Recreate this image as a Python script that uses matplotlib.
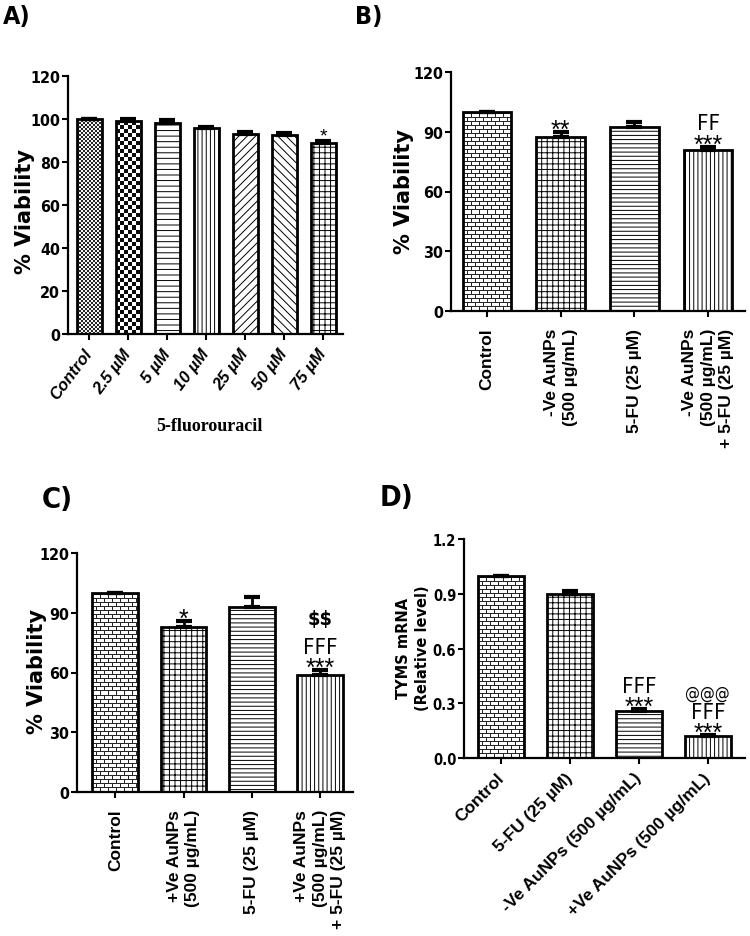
import os
import numpy as np
import matplotlib
matplotlib.use("Agg")
import matplotlib.pyplot as plt
from matplotlib import font_manager
from matplotlib.font_manager import FontProperties

### Data ###
a_labels = ["Control", "2.5 µM", "5 µM", "10 µM", "25 µM", "50 µM", "75 µM"]
a_values = [100, 99.3, 98.0, 96.0, 92.8, 92.4, 88.8]
a_errors = [0, 0.7, 1.5, 0.3, 1.2, 1.0, 1.2]

b_labels = ["Control", "-Ve AuNPs\n(500 µg/mL)", "5-FU (25 µM)",
            "-Ve AuNPs\n(500 µg/mL)\n+ 5-FU (25 µM)"]
b_values = [100, 87.6, 92.6, 80.9]
b_errors = [0, 2.4, 2.4, 1.6]

c_labels = ["Control", "+Ve AuNPs\n(500 µg/mL)", "5-FU (25 µM)",
            "+Ve AuNPs\n(500 µg/mL)\n+ 5-FU (25 µM)"]
c_values = [100, 82.6, 92.7, 58.8]
c_errors = [0, 3.1, 5.0, 2.7]

d_labels = ["Control", "5-FU (25 µM)", "-Ve AuNPs (500 µg/mL)", "+Ve AuNPs (500 µg/mL)"]
d_values = [1.0, 0.90, 0.26, 0.12]
d_errors = [0, 0.017, 0.012, 0.008]

# significance marks: (bar index, text)
b_marks = [(1, "**"), (3, "***"), (3, "FF")]
c_marks = [(1, "*"), (3, "***"), (3, "FFF"), (3, "$$")]
d_marks = [(2, "***"), (2, "FFF"), (3, "***"), (3, "FFF"), (3, "@@@")]


# look for a narrow / condensed sans font file
NARROW_KEYS = ["LiberationSansNarrow", "DejaVuSansCondensed", "RobotoCondensed",
               "Roboto_Condensed", "OpenSansCondensed", "OpenSans_Condensed",
               "NotoSans-Condensed", "NotoSansCondensed"]


def find_narrow(bold):
    for key in NARROW_KEYS:
        for f in font_manager.fontManager.ttflist:
            n = os.path.basename(f.fname)
            if key in n and ("Bold" in n) == bold and "Italic" not in n \
                    and "Oblique" not in n and "Semi" not in n and "Extra" not in n:
                return f.fname
    return None


NARROW_B = find_narrow(True)
NARROW_R = find_narrow(False)


def narrow(size, bold=True):
    fn = NARROW_B if bold else NARROW_R
    if fn:
        return FontProperties(fname=fn, size=size)
    return FontProperties(family="Liberation Sans", weight="bold" if bold else "normal",
                          size=size * 0.9)


plt.rcParams["hatch.linewidth"] = 0.7
W, H = 750, 937
fig = plt.figure(figsize=(W / 100, H / 100), dpi=100)


def texture(kind, nx, ny):
    yy, xx = np.mgrid[0:ny, 0:nx]
    a = np.ones((ny, nx))
    if kind == "brick":
        row = yy // 4
        a[yy % 4 == 0] = 0.15
        off = (row % 2) * 4
        a[(xx + off) % 8 == 0] = 0.15
    elif kind == "checker":
        a = np.where(((xx // 4) + (yy // 4)) % 2 == 0, 0.05, 1.0)
    elif kind == "fine":
        a = np.where(((xx // 2) + (yy // 2)) % 2 == 0, 0.15, 0.95)
    return a[::-1]


def make_axes(rect_px, xlim, ylim, yticks, yfmt, tick_size=11.5):
    l, b, w, h = rect_px
    ax = fig.add_axes([l / W, 1 - b / H, w / W, h / H])
    ax.set_xlim(*xlim)
    ax.set_ylim(*ylim)
    for s in ["top", "right"]:
        ax.spines[s].set_visible(False)
    for s in ["left", "bottom"]:
        ax.spines[s].set_linewidth(1.6)
    ax.tick_params(axis="both", direction="out", length=4, width=1.5, pad=1.5)
    ax.set_yticks(yticks)
    ax.set_yticklabels([yfmt.format(t) for t in yticks], fontproperties=narrow(tick_size))
    return ax


def draw_bars(ax, values, errors, width, styles):
    x = np.arange(len(values))
    for i, (v, st) in enumerate(zip(values, styles)):
        if st in ("brick", "checker", "fine"):
            bar = ax.bar(x[i], v, width, facecolor="none", edgecolor="black",
                         linewidth=2, zorder=3)[0]
            x0, y0 = ax.transData.transform((x[i] - width / 2, 0))
            x1, y1 = ax.transData.transform((x[i] + width / 2, v))
            img = texture(st, int(round(x1 - x0)), int(round(y1 - y0)))
            im = ax.imshow(img, extent=(x[i] - width / 2, x[i] + width / 2, 0, v),
                           cmap="gray", vmin=0, vmax=1, interpolation="nearest",
                           aspect="auto", origin="upper", zorder=1)
            im.set_clip_path(bar)
        else:
            ax.bar(x[i], v, width, facecolor="white", edgecolor="black",
                   linewidth=2, hatch=st, zorder=2)
    ax.errorbar(x, values, yerr=[np.zeros(len(values)), errors], fmt="none",
                ecolor="black", elinewidth=2, capsize=5.5, capthick=3, zorder=4)
    ax.set_xticks(x)


def mark(ax, x, y, text, dy_px, size=None):
    if set(text) == {"*"}:
        fp = FontProperties(family="Liberation Sans", size=size or 18)
    elif text[0] == "$":
        fp = narrow(14.5)
    elif text[0] == "@":
        fp = narrow(12, bold=False)
    else:
        fp = narrow(16, bold=False)
    ax.annotate(text, (x, y), xytext=(0, dy_px * 0.72), textcoords="offset points",
                ha="center", va="baseline", zorder=5, parse_math=False, fontproperties=fp)


mark_offsets = {"*": -5, "**": -5, "***": -5, "FF": 17.5, "FFF": 17, "$$": 46, "@@@": 37}

rot_font = dict(fontfamily="Liberation Sans", fontweight="bold")

# ---- A ----
axA = make_axes((68, 335, 275, 258), (-0.54, 6.51), (0, 120), range(0, 121, 20), "{:d}")
draw_bars(axA, a_values, a_errors, 0.64,
          ["fine", "checker", "---", "||||", "////", "\\\\\\\\", "+++"])
axA.set_xticklabels(a_labels, rotation=53, ha="right", va="center", rotation_mode="anchor",
                    fontstyle="italic", fontsize=12, **rot_font)
axA.tick_params(axis="x", pad=8)
mark(axA, 6, a_values[6] + a_errors[6], "*", 0, size=14)
fig.text(25 / W, 1 - 212 / H, "% Viability", rotation=90, ha="center", va="center",
         fontfamily="DejaVu Sans", fontweight="bold", fontsize=15)
fig.text(209 / W, 1 - 427 / H, "5-fluorouracil", ha="center", va="center",
         fontfamily="Liberation Serif", fontweight="bold", fontsize=13)
fig.text(3 / W, 1 - 24 / H, "A)", fontproperties=narrow(18), va="baseline")

# ---- B ----
axB = make_axes((451, 312, 294, 239), (-0.49, 3.5), (0, 120), range(0, 121, 30), "{:d}")
draw_bars(axB, b_values, b_errors, 0.66, ["brick", "+++", "----", "||||"])
axB.set_xticklabels(b_labels, rotation=90, ha="center", va="top", multialignment="right",
                    fontsize=12.5, linespacing=1.3, **rot_font)
axB.tick_params(axis="x", pad=8)
for i, t in b_marks:
    mark(axB, i, b_values[i] + b_errors[i], t, mark_offsets[t])
fig.text(404 / W, 1 - 192 / H, "% Viability", rotation=90, ha="center", va="center",
         fontfamily="DejaVu Sans", fontweight="bold", fontsize=15)
fig.text(355 / W, 1 - 24 / H, "B)", fontproperties=narrow(18), va="baseline")

# ---- C ----
axC = make_axes((77, 793, 276, 239), (-0.56, 3.48), (0, 120), range(0, 121, 30), "{:d}")
draw_bars(axC, c_values, c_errors, 0.67, ["brick", "+++", "----", "||||"])
axC.set_xticklabels(c_labels, rotation=90, ha="center", va="top", multialignment="right",
                    fontsize=12.5, linespacing=1.3, **rot_font)
axC.tick_params(axis="x", pad=8)
for i, t in c_marks:
    mark(axC, i, c_values[i] + c_errors[i], t, mark_offsets[t])
fig.text(37 / W, 1 - 672 / H, "% Viability", rotation=90, ha="center", va="center",
         fontfamily="DejaVu Sans", fontweight="bold", fontsize=15)
fig.text(42 / W, 1 - 508 / H, "C)", fontproperties=narrow(21), va="baseline")

# ---- D ----
axD = make_axes((464, 759.3, 281, 219.3), (-0.54, 3.54), (0, 1.2),
                [0, 0.3, 0.6, 0.9, 1.2], "{:.1f}", tick_size=10.5)
draw_bars(axD, d_values, d_errors, 0.67, ["brick", "+++", "----", "||||"])
axD.set_xticklabels(d_labels, rotation=45, ha="right", va="center", rotation_mode="anchor",
                    fontsize=12.5, **rot_font)
axD.tick_params(axis="x", pad=8)
for i, t in d_marks:
    mark(axD, i, d_values[i] + d_errors[i], t, mark_offsets[t])
fig.text(413 / W, 1 - 648 / H, "TYMS mRNA\n(Relative level)", rotation=90, ha="center",
         va="center", fontfamily="DejaVu Sans", fontweight="bold", fontsize=10.5, linespacing=1.3)
fig.text(380 / W, 1 - 506 / H, "D)", fontproperties=narrow(21), va="baseline")

fig.savefig("out.png", dpi=100)
